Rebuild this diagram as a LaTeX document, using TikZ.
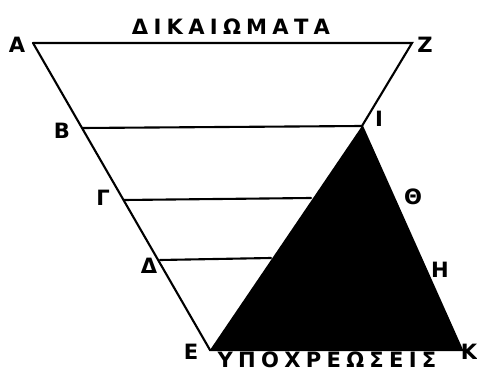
\documentclass[tikz,border=0pt]{standalone}
\usepackage{fontspec}
\setmainfont{DejaVu Sans}
\usetikzlibrary{positioning}
\tikzset{
  edge/.style={line width=1.2pt,line cap=round},
  pt/.style={font=\large\bfseries,inner sep=1pt},
  word/.style={font=\large\bfseries\addfontfeature{LetterSpace=25},inner sep=1pt},
}

\begin{document}
\begin{tikzpicture}[x=0.2mm,y=-0.2mm]
  \useasboundingbox (0,0) rectangle (477,373);
  % corners of the trapezium and the triangle
  \coordinate (a) at (33,43);
  \coordinate (z) at (412,43);
  \coordinate (b) at (82,128);
  \coordinate (i) at (362,126);
  \coordinate (g) at (124,200);
  \coordinate (gx) at (311,198);
  \coordinate (d) at (160,260);
  \coordinate (dx) at (271,258);
  \coordinate (e) at (210,350);
  \coordinate (k) at (462,350);

  \fill[black] (e) -- (i) -- (k) -- cycle;
  \draw[edge] (a) -- (z) -- (i);
  \draw[edge] (a) -- (e) -- (k) -- (i) -- (b);
  \draw[edge] (g) -- (gx);
  \draw[edge] (d) -- (dx);

  \node[pt] (la) at (17,45) {Α};
  \node[pt] (lz) at (425,45) {Ζ};
  \node[pt] (lb) at (62,131) {Β};
  \node[pt] (li) at (379,119) {Ι};
  \node[pt] (lg) at (103,198) {Γ};
  \node[pt] (lth) at (413,197) {Θ};
  \node[pt] (ld) at (149,266) {Δ};
  \node[pt] (lh) at (440,270) {Η};
  \node[pt] (le) at (191,352) {Ε};
  \node[pt] (lk) at (469,352) {Κ};
  \node[word] (top) at (231,27) {ΔΙΚΑΙΩΜΑΤΑ};
  \node[word] (bot) at (327,360) {ΥΠΟΧΡΕΩΣΕΙΣ};
\end{tikzpicture}
\end{document}
